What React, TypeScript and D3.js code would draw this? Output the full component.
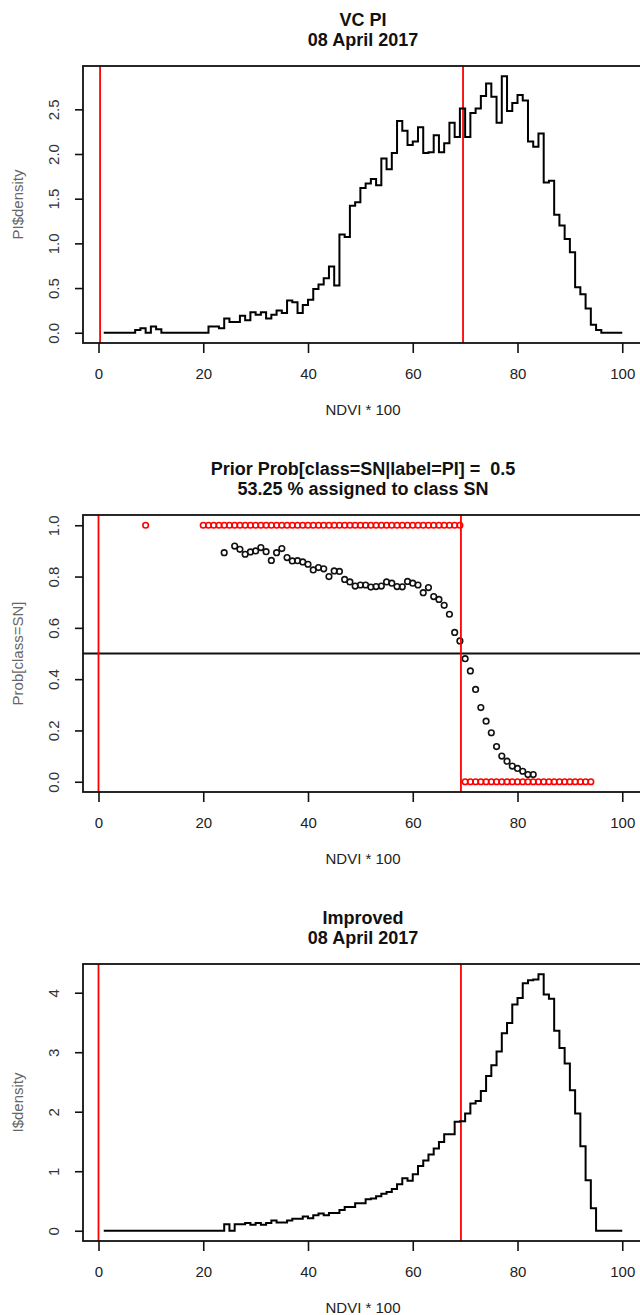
import React, { useEffect, useRef } from "react";
import * as d3 from "d3";

// NDVI*100 bins start at 1 and run to 100 (one value per bin)
const NDVI_START = 1;

// VC PI density per NDVI bin
const piDensity = [
  0, 0, 0, 0, 0, 0, 0.03, 0.05, 0, 0.07,
  0.04, 0, 0, 0, 0, 0, 0, 0, 0, 0,
  0.07, 0.07, 0.05, 0.16, 0.12, 0.12, 0.19, 0.14, 0.23, 0.2,
  0.23, 0.16, 0.2, 0.25, 0.22, 0.36, 0.34, 0.22, 0.31, 0.37,
  0.49, 0.54, 0.61, 0.74, 0.53, 1.1, 1.07, 1.42, 1.46, 1.62,
  1.67, 1.72, 1.65, 1.95, 1.83, 2.01, 2.37, 2.26, 2.1, 2.14,
  2.3, 2.01, 2.02, 2.21, 2.02, 2.12, 2.35, 2.19, 2.51, 2.19,
  2.46, 2.51, 2.65, 2.79, 2.64, 2.35, 2.87, 2.48, 2.57, 2.66,
  2.6, 2.14, 2.08, 2.23, 1.68, 1.7, 1.32, 1.2, 1.05, 0.9,
  0.51, 0.43, 0.27, 0.09, 0.03, 0, 0, 0, 0, 0,
];

// Improved density per NDVI bin
const improvedDensity = [
  0, 0, 0, 0, 0, 0, 0, 0, 0, 0,
  0, 0, 0, 0, 0, 0, 0, 0, 0, 0,
  0, 0, 0, 0.11, 0, 0.11, 0.11, 0.13, 0.1, 0.13,
  0.1, 0.13, 0.17, 0.14, 0.14, 0.17, 0.2, 0.2, 0.24, 0.21,
  0.26, 0.29, 0.26, 0.3, 0.3, 0.35, 0.4, 0.4, 0.46, 0.46,
  0.53, 0.54, 0.58, 0.62, 0.65, 0.7, 0.78, 0.88, 0.84, 0.95,
  1.09, 1.18, 1.28, 1.38, 1.49, 1.62, 1.62, 1.83, 1.84, 1.97,
  2.14, 2.18, 2.35, 2.6, 2.78, 3.01, 3.32, 3.49, 3.8, 3.91,
  4.16, 4.21, 4.22, 4.31, 3.97, 3.9, 3.36, 3.07, 2.81, 2.36,
  1.97, 1.42, 0.85, 0.38, 0, 0, 0, 0, 0, 0,
];

// Prob[class=SN] (black circles)
const probX = [
  24, 26, 27, 28, 29, 30, 31, 32, 33, 34, 35, 36, 37, 38, 39, 40, 41, 42, 43,
  44, 45, 46, 47, 48, 49, 50, 51, 52, 53, 54, 55, 56, 57, 58, 59, 60, 61, 62,
  63, 64, 65, 66, 67, 68, 69, 70, 71, 72, 73, 74, 75, 76, 77, 78, 79, 80, 81,
  82, 83,
];
const probSN = [
  0.893, 0.919, 0.906, 0.887, 0.896, 0.9, 0.913, 0.897, 0.863, 0.893, 0.909,
  0.874, 0.861, 0.862, 0.857, 0.848, 0.826, 0.835, 0.83, 0.8, 0.822, 0.82,
  0.789, 0.779, 0.763, 0.767, 0.767, 0.759, 0.761, 0.763, 0.779, 0.774, 0.761,
  0.76, 0.781, 0.774, 0.767, 0.737, 0.757, 0.722, 0.711, 0.688, 0.653, 0.582,
  0.549, 0.48, 0.432, 0.36, 0.289, 0.236, 0.191, 0.137, 0.1, 0.08, 0.061,
  0.052, 0.041, 0.028, 0.028,
];

// assigned class (red circles): 1 = SN, 0 = not SN
const assignedSNX = [
  9, 20, 21, 22, 23, 24, 25, 26, 27, 28, 29, 30, 31, 32, 33, 34, 35, 36, 37,
  38, 39, 40, 41, 42, 43, 44, 45, 46, 47, 48, 49, 50, 51, 52, 53, 54, 55, 56,
  57, 58, 59, 60, 61, 62, 63, 64, 65, 66, 67, 68, 69,
];
const assignedOtherX = [
  70, 71, 72, 73, 74, 75, 76, 77, 78, 79, 80, 81, 82, 83, 84, 85, 86, 87, 88,
  89, 90, 91, 92, 93, 94,
];

const xTicks = [0, 20, 40, 60, 80, 100];
const piTicks = [0, 0.5, 1, 1.5, 2, 2.5];
const probTicks = [0, 0.2, 0.4, 0.6, 0.8, 1];
const improvedTicks = [0, 1, 2, 3, 4];

const piCuts = [0.3, 69.6];
const cuts = [0, 69.2];
const priorLine = 0.5;

const App: React.FC = () => {
  const svgRef = useRef<SVGSVGElement | null>(null);

  useEffect(() => {
    const width = 640;
    const height = 1315;
    const plotLeft = 83;
    const plotRight = 643;
    const plotHeight = 277;
    const font = "'Liberation Sans', Arial, Helvetica, sans-serif";

    const svg = d3.select(svgRef.current);
    svg.selectAll("*").remove();
    svg
      .attr("width", width)
      .attr("height", height)
      .attr("viewBox", [0, 0, width, height])
      .style("font-family", font);

    // R style 4% extension on x range 1..100
    const xr = 100 - NDVI_START;
    const x = d3
      .scaleLinear()
      .domain([NDVI_START - 0.04 * xr, 100 + 0.04 * xr])
      .range([plotLeft, plotRight]);

    function panel(
      top: number,
      ymax: number,
      yTicks: number[],
      yFormat: (d: number) => string,
      title: string[],
      ylab: string,
    ) {
      const y = d3
        .scaleLinear()
        .domain([-0.04 * ymax, 1.04 * ymax])
        .range([top + plotHeight, top]);
      const g = svg.append("g");

      // titles
      title.forEach((t, i) => {
        g.append("text")
          .attr("x", (plotLeft + plotRight) / 2)
          .attr("y", top - 40 + i * 19.5)
          .attr("text-anchor", "middle")
          .attr("font-weight", "bold")
          .attr("font-size", 18)
          .attr("fill", "#111")
          .style("white-space", "pre")
          .text(t);
      });

      // x axis
      const gx = g
        .append("g")
        .attr("transform", `translate(0,${top + plotHeight})`)
        .call(
          d3
            .axisBottom(x)
            .tickValues(xTicks)
            .tickSize(10)
            .tickSizeOuter(0)
            .tickPadding(15),
        );
      gx.select(".domain").remove();
      gx.selectAll("line").attr("stroke", "#111").attr("stroke-width", 1.6);
      gx.selectAll("text")
        .attr("font-size", 15)
        .attr("font-family", font)
        .attr("fill", "#222");

      g.append("text")
        .attr("x", (plotLeft + plotRight) / 2)
        .attr("y", top + plotHeight + 71.5)
        .attr("text-anchor", "middle")
        .attr("font-size", 15)
        .attr("fill", "#222")
        .text("NDVI * 100");

      // y axis, labels parallel to the axis
      const gy = g
        .append("g")
        .attr("transform", `translate(${plotLeft},0)`)
        .call(
          d3
            .axisLeft(y)
            .tickValues(yTicks)
            .tickFormat(yFormat as any)
            .tickSize(8)
            .tickSizeOuter(0),
        );
      gy.select(".domain").remove();
      gy.selectAll("line").attr("stroke", "#111").attr("stroke-width", 1.6);
      gy.selectAll("text")
        .attr("x", null)
        .attr("dy", null)
        .attr("text-anchor", "middle")
        .attr("transform", "translate(-24,0) rotate(-90)")
        .attr("font-size", 15)
        .attr("font-family", font)
        .attr("fill", "#333");

      g.append("text")
        .attr("transform", `translate(23,${top + plotHeight / 2}) rotate(-90)`)
        .attr("text-anchor", "middle")
        .attr("font-size", 15)
        .attr("fill", "#666")
        .text(ylab);

      return { g, y };
    }

    function box(g: any, top: number) {
      g.append("rect")
        .attr("x", plotLeft)
        .attr("y", top)
        .attr("width", plotRight - plotLeft)
        .attr("height", plotHeight)
        .attr("fill", "none")
        .attr("stroke", "#111")
        .attr("stroke-width", 1.8);
    }

    function redLines(g: any, top: number, vals: number[]) {
      g.selectAll(null)
        .data(vals)
        .enter()
        .append("line")
        .attr("x1", (d: number) => x(d))
        .attr("x2", (d: number) => x(d))
        .attr("y1", top)
        .attr("y2", top + plotHeight)
        .attr("stroke", "#ff0000")
        .attr("stroke-width", 1.8);
    }

    function stepHist(g: any, y: any, vals: number[]) {
      const line = d3
        .line<number>()
        .x((_, i) => x(NDVI_START + i))
        .y((d) => y(d))
        .curve(d3.curveStepAfter);
      g.append("path")
        .attr("d", line(vals))
        .attr("fill", "none")
        .attr("stroke", "#000")
        .attr("stroke-width", 2);
    }

    const tops = [66, 515, 964];

    // panel 1: VC PI
    const p1 = panel(
      tops[0],
      d3.max(piDensity) as number,
      piTicks,
      d3.format(".1f"),
      ["VC PI", "08 April 2017"],
      "PI$density",
    );
    redLines(p1.g, tops[0], piCuts);
    stepHist(p1.g, p1.y, piDensity);
    box(p1.g, tops[0]);

    // panel 2: probability of class SN
    const p2 = panel(
      tops[1],
      1,
      probTicks,
      d3.format(".1f"),
      ["Prior Prob[class=SN|label=PI] =  0.5", "53.25 % assigned to class SN"],
      "Prob[class=SN]",
    );
    p2.g
      .append("g")
      .selectAll("circle")
      .data(probSN)
      .enter()
      .append("circle")
      .attr("cx", (_: number, i: number) => x(probX[i]))
      .attr("cy", (d: number) => p2.y(d))
      .attr("r", 2.8)
      .attr("fill", "none")
      .attr("stroke", "#111")
      .attr("stroke-width", 1.6);
    const red = [
      ...assignedSNX.map((v) => ({ x: v, p: 1 })),
      ...assignedOtherX.map((v) => ({ x: v, p: 0 })),
    ];
    p2.g
      .append("g")
      .selectAll("circle")
      .data(red)
      .enter()
      .append("circle")
      .attr("cx", (d: any) => x(d.x))
      .attr("cy", (d: any) => p2.y(d.p))
      .attr("r", 2.8)
      .attr("fill", "none")
      .attr("stroke", "#ff0000")
      .attr("stroke-width", 1.6);
    p2.g
      .append("line")
      .attr("x1", plotLeft)
      .attr("x2", plotRight)
      .attr("y1", p2.y(priorLine))
      .attr("y2", p2.y(priorLine))
      .attr("stroke", "#111")
      .attr("stroke-width", 1.8);
    redLines(p2.g, tops[1], cuts);
    box(p2.g, tops[1]);

    // panel 3: improved
    const p3 = panel(
      tops[2],
      d3.max(improvedDensity) as number,
      improvedTicks,
      d3.format("d"),
      ["Improved", "08 April 2017"],
      "I$density",
    );
    redLines(p3.g, tops[2], cuts);
    stepHist(p3.g, p3.y, improvedDensity);
    box(p3.g, tops[2]);
  }, []);

  return (
    <div style={{ position: "absolute", left: 0, top: 0, background: "#fff" }}>
      <svg ref={svgRef} style={{ display: "block" }}></svg>
    </div>
  );
};

export default App;
